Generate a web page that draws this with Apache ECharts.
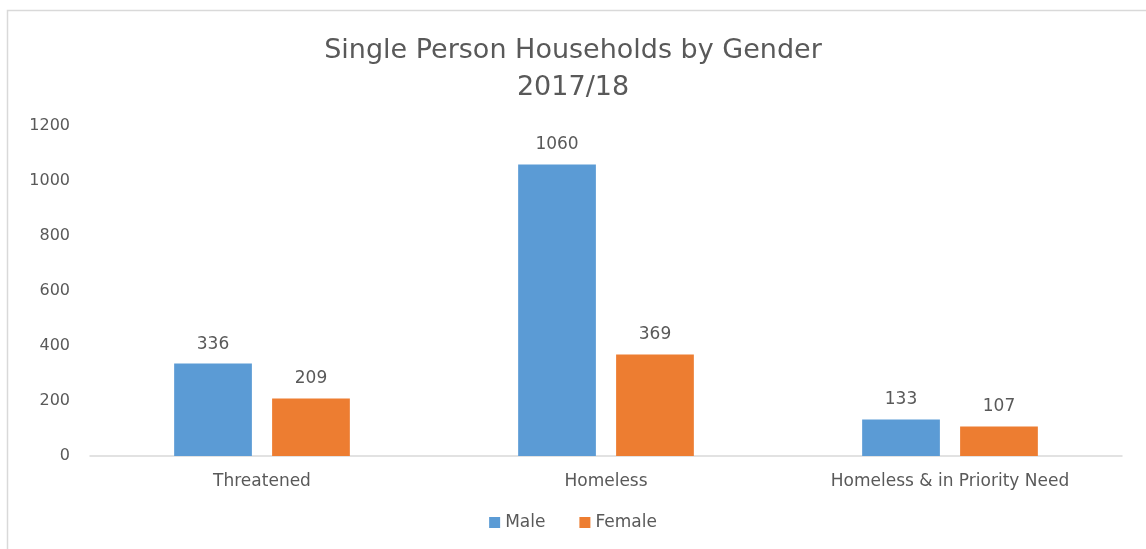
<!DOCTYPE html>
<html>
<head>
<meta charset="utf-8">
<script src="https://cdn.jsdelivr.net/npm/echarts@6/dist/echarts.min.js"></script>
<style>
  html, body { margin: 0; padding: 0; background: #fff; }
  #chart { width: 1146px; height: 549px; }
</style>
</head>
<body>
<div id="chart"></div>
<script>
const categories = ['Threatened', 'Homeless', 'Homeless & in Priority Need'];
const maleValues = [336, 1060, 133];
const femaleValues = [209, 369, 107];
const yTicks = [0, 200, 400, 600, 800, 1000, 1200];

const textColor = '#595959';
const fontFamily = '"DejaVu Sans", "Noto Sans", sans-serif';

const chart = echarts.init(document.getElementById('chart'));
chart.setOption({
  backgroundColor: '#fff',
  animation: false,
  textStyle: { fontFamily: fontFamily, color: textColor },
  graphic: [{
    type: 'rect',
    shape: { x: 7.5, y: 10.5, width: 1150, height: 560 },
    style: { fill: 'none', stroke: '#d9d9d9', lineWidth: 1.5 },
    silent: true
  }],
  title: {
    text: 'Single Person Households by Gender\n2017/18',
    left: 'center',
    top: 27,
    textStyle: {
      fontFamily: fontFamily,
      fontSize: 27,
      fontWeight: 'normal',
      color: textColor,
      lineHeight: 37
    }
  },
  legend: {
    bottom: 13,
    left: 'center',
    itemWidth: 11,
    itemHeight: 11,
    itemGap: 34,
    icon: 'rect',
    textStyle: { fontSize: 17, color: textColor, fontFamily: fontFamily },
    data: ['Male', 'Female']
  },
  grid: { left: 90, right: 24, top: 126, bottom: 93, containLabel: false },
  xAxis: {
    type: 'category',
    data: categories,
    axisLine: { show: true, lineStyle: { color: '#d9d9d9', width: 1.5 } },
    axisTick: { show: false },
    axisLabel: { fontSize: 17, color: textColor, margin: 17, fontFamily: fontFamily }
  },
  yAxis: {
    type: 'value',
    min: yTicks[0],
    max: yTicks[yTicks.length - 1],
    interval: yTicks[1] - yTicks[0],
    axisLine: { show: false },
    axisTick: { show: false },
    splitLine: { show: false },
    axisLabel: {
      fontSize: 16, color: textColor, margin: 20, fontFamily: fontFamily,
      formatter: function (v) { return String(v); }
    }
  },
  series: [
    {
      name: 'Male',
      type: 'bar',
      data: maleValues,
      barWidth: '22.6%',
      barGap: '26%',
      itemStyle: { color: '#5b9bd5' },
      label: { show: true, position: 'top', distance: 11, fontSize: 17, color: textColor, fontFamily: fontFamily }
    },
    {
      name: 'Female',
      type: 'bar',
      data: femaleValues,
      barWidth: '22.6%',
      itemStyle: { color: '#ed7d31' },
      label: { show: true, position: 'top', distance: 11, fontSize: 17, color: textColor, fontFamily: fontFamily }
    }
  ]
});
</script>
</body>
</html>
